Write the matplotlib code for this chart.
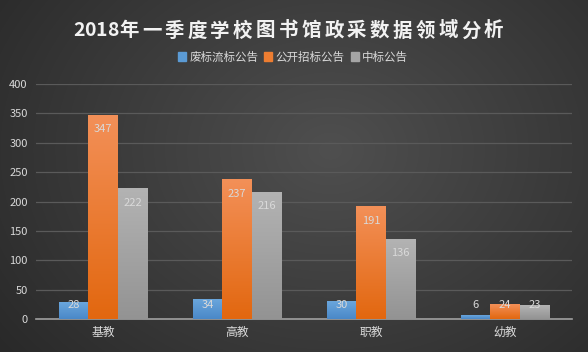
import numpy as np
import matplotlib.pyplot as plt
from matplotlib.patches import Rectangle

plt.rcParams['font.family'] = ['Noto Sans CJK SC', 'DejaVu Sans']

# 数据
categories = ["基教", "高教", "职教", "幼教"]
series_names = ["废标流标公告", "公开招标公告", "中标公告"]
feibiao = [28, 34, 30, 6]
zhaobiao = [347, 237, 191, 24]
zhongbiao = [222, 216, 136, 23]
values = [feibiao, zhaobiao, zhongbiao]
yticks = [0, 50, 100, 150, 200, 250, 300, 350, 400]
title = "2018年一季度学校图书馆政采数据领域分析"

# 渐变色 (顶部, 底部)
grads = [("#6aa6dc", "#4a88c8"), ("#f39058", "#e2670f"), ("#b3b3b3", "#939393")]
legend_colors = ["#5b9bd5", "#ed7d31", "#a5a5a5"]

fig = plt.figure(figsize=(5.88, 3.52), dpi=100)

# 背景径向渐变
bg = fig.add_axes([0, 0, 1, 1])
yy, xx = np.mgrid[0:352, 0:588]
r = np.sqrt(((xx - 330) / 420) ** 2 + ((yy - 150) / 330) ** 2)
shade = np.clip(0.31 - 0.15 * r, 0.13, 0.31)
bg.imshow(np.dstack([shade] * 3), aspect='auto', extent=[0, 1, 0, 1])
bg.axis('off')

ax = fig.add_axes([36 / 588, 1 - 319 / 352, 536 / 588, 235 / 352])
ax.set_facecolor('none')

x = np.arange(len(categories))
w = 0.22
grad = np.linspace(1, 0, 256).reshape(-1, 1)
for i, vals in enumerate(values):
    top_c = np.array(plt.matplotlib.colors.to_rgb(grads[i][0]))
    bot_c = np.array(plt.matplotlib.colors.to_rgb(grads[i][1]))
    for j, v in enumerate(vals):
        cx = x[j] + (i - 1) * w
        img = (grad[..., None] * top_c + (1 - grad[..., None]) * bot_c)
        ax.imshow(img, aspect='auto', extent=[cx - w / 2, cx + w / 2, 0, v],
                  zorder=3, interpolation='bilinear')
        ly = max(v - 24, 24)
        ax.text(cx, ly, str(v), ha='center', va='center', fontsize=8,
                color='#d9d9d9', zorder=4)
ax.set_xlim(-0.5, 3.5)
ax.set_ylim(0, 400)

ax.set_yticks(yticks)
ax.set_xticks(x)
ax.set_xticklabels(categories)
ax.tick_params(axis='both', length=0, colors='#d9d9d9', labelsize=8)
ax.tick_params(axis='y', pad=6)
ax.tick_params(axis='x', pad=5, labelsize=8.5)
ax.grid(axis='y', color='#5a5a5a', linewidth=0.9, zorder=0)
ax.set_axisbelow(True)
for s in ['top', 'right', 'left']:
    ax.spines[s].set_visible(False)
ax.spines['bottom'].set_color('#a0a0a0')
ax.spines['bottom'].set_linewidth(1.2)

# 标题 (字间距加宽, 逐字放置)
px = 73.0
for ch in title:
    step = 11.4 if ch.isdigit() else 22.8
    fig.text((px + step / 2 - (0 if ch.isdigit() else 1.2)) / 588, 1 - 31 / 352, ch,
             ha='center', va='center', fontsize=14, fontweight='bold', color='#f2f2f2')
    px += step

# 图例
handles = [Rectangle((0, 0), 1, 1, color=c) for c in legend_colors]
fig.legend(handles, series_names, loc='center', bbox_to_anchor=(293 / 588, 1 - 57 / 352),
           ncol=3, frameon=False, fontsize=8.3, labelcolor='#d9d9d9',
           handlelength=0.7, handleheight=0.7, handletextpad=0.3, columnspacing=0.5)

fig.savefig("out.png", dpi=100)
